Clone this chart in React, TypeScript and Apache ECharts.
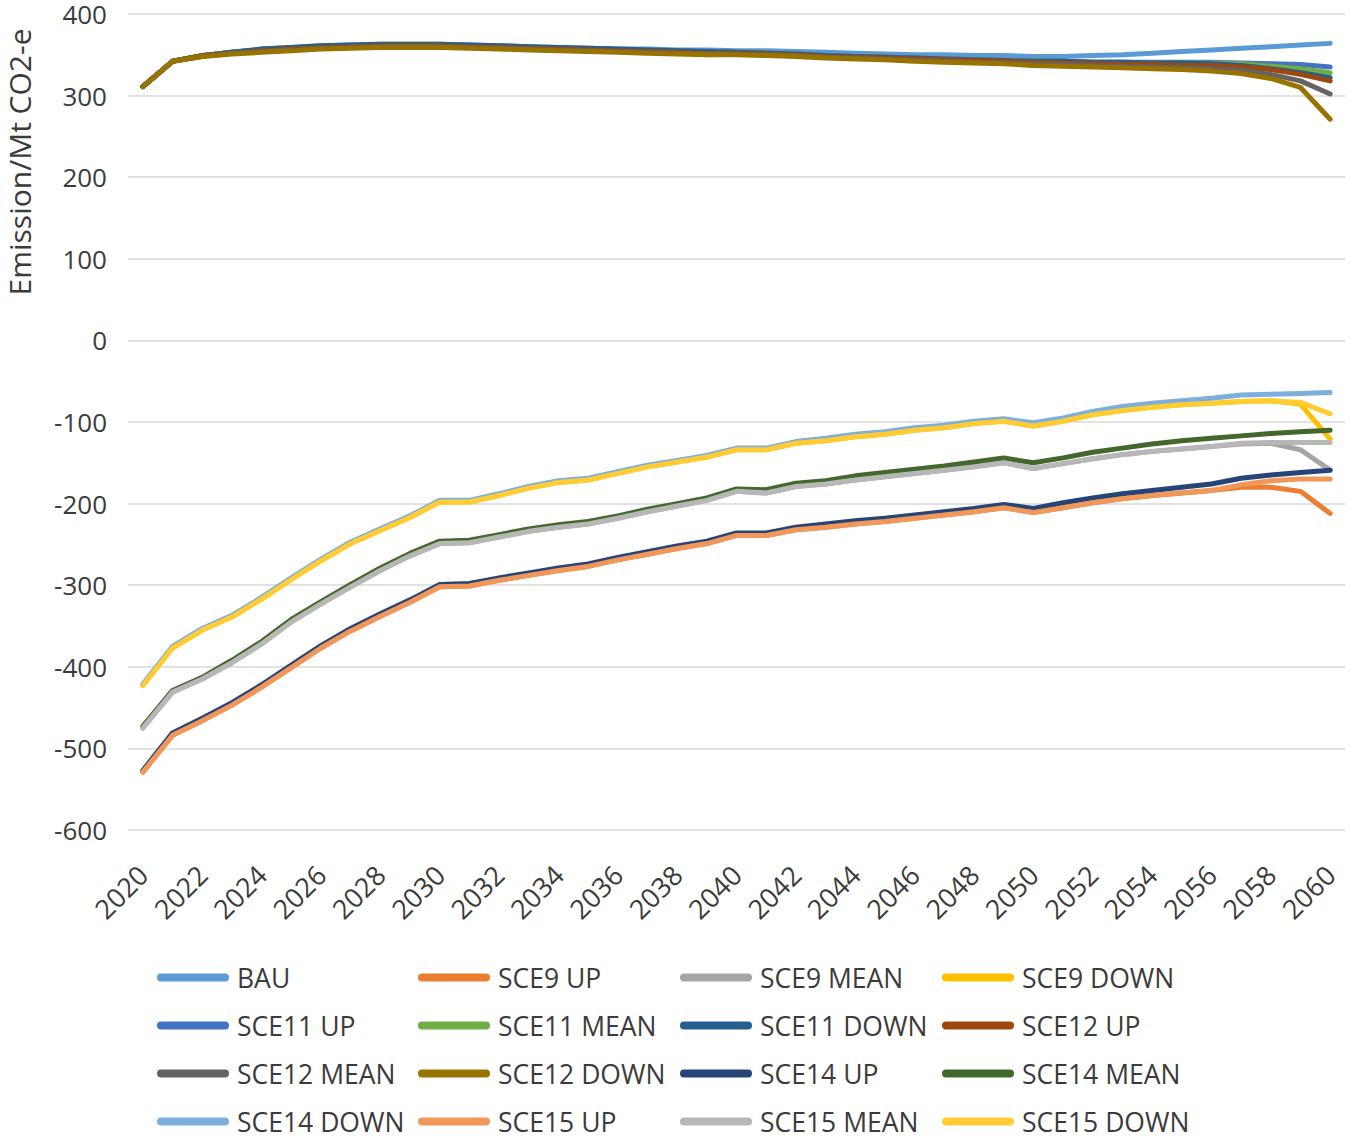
import React, { useEffect, useRef } from "react";
import * as echarts from "echarts";

const years: string[] = [];
for (let y = 2020; y <= 2060; y++) years.push(String(y));

const seriesNames = [
  "BAU", "SCE9 UP", "SCE9 MEAN", "SCE9 DOWN",
  "SCE11 UP", "SCE11 MEAN", "SCE11 DOWN", "SCE12 UP",
  "SCE12 MEAN", "SCE12 DOWN", "SCE14 UP", "SCE14 MEAN",
  "SCE14 DOWN", "SCE15 UP", "SCE15 MEAN", "SCE15 DOWN",
];

const seriesColors = [
  "#5B9BD5", "#ED7D31", "#A5A5A5", "#FFC000",
  "#4472C4", "#70AD47", "#255E91", "#9E480E",
  "#636363", "#997300", "#264478", "#43682B",
  "#7CAFDD", "#F1975A", "#B7B7B7", "#FFCD33",
];

const BAU = [
  311, 342, 349, 353, 357, 359, 361, 362, 363, 363,
  363, 362, 361, 360, 359, 358, 357, 357, 356, 356,
  355, 355, 354, 353, 352, 351, 350, 350, 349, 349,
  348, 348, 349, 350, 352, 354, 356, 358, 360, 362,
  364,
];
const SCE11_UP = [
  311, 342, 349, 353, 356, 358, 360, 361, 362, 362,
  362, 361, 360, 359, 358, 357, 356, 355, 354, 353,
  353, 352, 351, 349, 348, 347, 346, 345, 344, 343,
  342, 342, 341, 341, 341, 341, 341, 340, 339, 338,
  335,
];
const SCE11_MEAN = [
  311, 342, 349, 353, 356, 358, 360, 361, 362, 362,
  362, 361, 360, 359, 358, 357, 356, 355, 354, 353,
  353, 352, 351, 349, 348, 347, 346, 345, 344, 343,
  342, 342, 341, 341, 340, 340, 340, 339, 336, 333,
  328,
];
const SCE11_DOWN = [
  311, 342, 349, 353, 357, 359, 361, 362, 363, 363,
  363, 362, 361, 360, 359, 358, 357, 356, 355, 354,
  353, 352, 351, 349, 348, 347, 346, 345, 344, 343,
  342, 342, 341, 341, 340, 340, 339, 337, 333, 328,
  322,
];
const SCE12_UP = [
  311, 342, 349, 352, 355, 357, 359, 360, 361, 361,
  361, 360, 359, 358, 357, 356, 355, 354, 353, 352,
  352, 351, 350, 348, 347, 346, 345, 344, 343, 342,
  341, 340, 339, 338, 338, 337, 337, 335, 332, 326,
  318,
];
const SCE12_MEAN = [
  311, 342, 348, 352, 354, 356, 358, 359, 360, 360,
  360, 359, 358, 357, 356, 355, 354, 353, 352, 351,
  351, 350, 349, 347, 346, 345, 343, 342, 341, 340,
  339, 338, 337, 336, 335, 334, 333, 331, 326, 318,
  302,
];
const SCE12_DOWN = [
  311, 342, 348, 351, 353, 355, 357, 358, 359, 359,
  359, 358, 357, 356, 355, 354, 353, 352, 351, 350,
  350, 349, 348, 346, 345, 344, 342, 341, 340, 339,
  337, 336, 335, 334, 333, 332, 330, 327, 321, 310,
  271,
];

const SCE9_UP = [
  -529, -484, -466, -447, -425, -401, -377, -356, -338, -321,
  -302, -301, -294, -288, -282, -277, -269, -262, -255, -249,
  -239, -239, -232, -229, -225, -222, -218, -214, -210, -205,
  -211, -205, -199, -194, -190, -187, -184, -180, -180, -185,
  -212,
];
const SCE9_MEAN = [
  -475, -431, -415, -395, -372, -345, -323, -302, -282, -264,
  -249, -248, -241, -234, -229, -225, -218, -210, -203, -196,
  -185, -187, -179, -176, -171, -167, -163, -159, -155, -150,
  -157, -151, -145, -140, -136, -133, -130, -127, -126, -134,
  -159,
];
const SCE9_DOWN = [
  -423, -377, -355, -339, -317, -293, -270, -249, -233, -217,
  -198, -198, -190, -181, -174, -171, -163, -155, -149, -143,
  -134, -134, -126, -123, -118, -115, -110, -107, -102, -99,
  -105, -99, -91, -86, -82, -79, -77, -75, -74, -78,
  -121,
];
const SCE14_UP = [
  -527, -481, -463, -444, -422, -398, -374, -353, -335, -318,
  -299, -298, -291, -285, -279, -274, -266, -259, -252, -246,
  -236, -236, -229, -225, -221, -218, -214, -210, -206, -201,
  -206, -199, -193, -188, -184, -180, -176, -169, -165, -162,
  -159,
];
const SCE14_MEAN = [
  -473, -429, -413, -392, -369, -342, -320, -299, -279, -261,
  -246, -245, -238, -231, -226, -222, -215, -207, -200, -193,
  -182, -183, -175, -172, -166, -162, -158, -154, -149, -144,
  -150, -144, -137, -132, -127, -123, -120, -117, -114, -112,
  -110,
];
const SCE14_DOWN = [
  -421, -375, -353, -337, -315, -291, -268, -247, -231, -215,
  -196, -196, -188, -179, -172, -169, -161, -153, -147, -141,
  -132, -132, -124, -120, -115, -112, -107, -104, -99, -96,
  -101, -95, -87, -81, -77, -74, -71, -67, -66, -65,
  -64,
];
const SCE15_UP = [
  -529, -484, -466, -447, -425, -401, -377, -356, -338, -321,
  -302, -301, -294, -288, -282, -277, -269, -262, -255, -249,
  -239, -239, -232, -229, -225, -222, -218, -214, -210, -205,
  -211, -205, -199, -194, -190, -187, -184, -177, -172, -170,
  -170,
];
const SCE15_MEAN = [
  -475, -431, -415, -395, -372, -345, -323, -302, -282, -264,
  -249, -248, -241, -234, -229, -225, -218, -210, -203, -196,
  -185, -187, -179, -176, -171, -167, -163, -159, -155, -150,
  -157, -151, -145, -140, -136, -133, -130, -126, -125, -125,
  -125,
];
const SCE15_DOWN = [
  -423, -377, -355, -339, -317, -293, -270, -249, -233, -217,
  -198, -198, -190, -181, -174, -171, -163, -155, -149, -143,
  -134, -134, -126, -123, -118, -115, -110, -107, -102, -99,
  -105, -99, -91, -86, -82, -79, -77, -75, -74, -76,
  -90,
];

const seriesData = [
  BAU, SCE9_UP, SCE9_MEAN, SCE9_DOWN,
  SCE11_UP, SCE11_MEAN, SCE11_DOWN, SCE12_UP,
  SCE12_MEAN, SCE12_DOWN, SCE14_UP, SCE14_MEAN,
  SCE14_DOWN, SCE15_UP, SCE15_MEAN, SCE15_DOWN,
];

const yTicks = { min: -600, max: 400, interval: 100 };
const yAxisTitle = "Emission/Mt CO2-e";

const FONT = "'Open Sans', 'Noto Sans', sans-serif";
const TEXT_COLOR = "#3b3b3b";

export default function App() {
  const ref = useRef<HTMLDivElement>(null);

  useEffect(() => {
    if (!ref.current) return;
    const chart = echarts.init(ref.current, undefined, { renderer: "svg" });

    const columnLefts = [157, 418, 680, 942];
    const legends = columnLefts.map((left, c) => ({
      left,
      top: 964,
      height: 175,
      orient: "vertical" as const,
      data: [0, 1, 2, 3].map((r) => seriesNames[r * 4 + c]),
      icon: "path://M4 0H68A4 4 0 0 1 68 8H4A4 4 0 0 1 4 0Z",
      itemWidth: 72,
      itemHeight: 8,
      itemGap: 21,
      padding: 0,
      selectedMode: false,
      itemStyle: { borderWidth: 0 },
      textStyle: {
        fontFamily: FONT,
        fontSize: 26.5,
        color: TEXT_COLOR,
        lineHeight: 26,
        padding: [0, 0, 0, 3],
      },
    }));

    chart.setOption({
      animation: false,
      backgroundColor: "#ffffff",
      grid: { left: 128, right: 5, top: 14, bottom: 306, containLabel: false },
      legend: legends,
      xAxis: {
        type: "category",
        data: years,
        boundaryGap: true,
        axisLine: { show: false },
        axisTick: { show: false },
        axisLabel: {
          interval: 1,
          rotate: 45,
          margin: 40,
          fontFamily: FONT,
          fontSize: 27,
          color: TEXT_COLOR,
        },
        splitLine: { show: false },
      },
      yAxis: {
        type: "value",
        min: yTicks.min,
        max: yTicks.max,
        interval: yTicks.interval,
        axisLine: { show: false },
        axisTick: { show: false },
        axisLabel: {
          margin: 21,
          fontFamily: FONT,
          fontSize: 26,
          color: TEXT_COLOR,
        },
        splitLine: { lineStyle: { color: "#d9d9d9", width: 1.5 } },
      },
      graphic: [
        {
          type: "text",
          x: 19,
          y: 162,
          rotation: Math.PI / 2,
          style: {
            text: yAxisTitle,
            fontFamily: FONT,
            fontSize: 30,
            fill: TEXT_COLOR,
            textAlign: "center",
            textVerticalAlign: "middle",
          },
        },
      ],
      series: seriesNames.map((name, i) => ({
        name,
        type: "line",
        data: seriesData[i],
        showSymbol: false,
        symbol: "none",
        smooth: false,
        color: seriesColors[i],
        lineStyle: { width: 5, color: seriesColors[i], cap: "round", join: "round" },
        emphasis: { disabled: true },
      })),
    });

    return () => chart.dispose();
  }, []);

  return (
    <div
      ref={ref}
      style={{ position: "absolute", left: 0, top: 0, width: 1350, height: 1136 }}
    />
  );
}
